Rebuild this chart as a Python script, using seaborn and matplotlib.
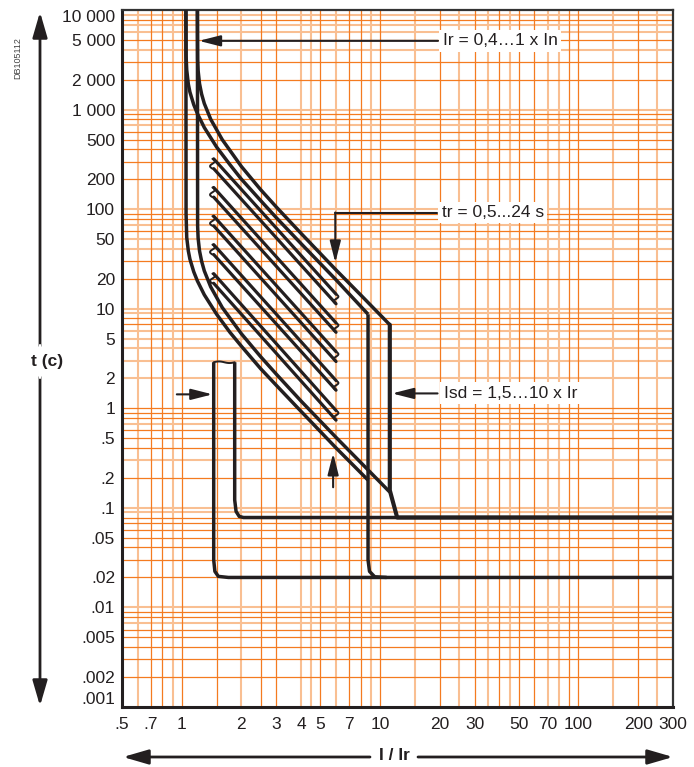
import numpy as np
import pandas as pd
import seaborn as sns
import matplotlib.pyplot as plt
from matplotlib.patches import ArrowStyle

sns.set_style('white')
plt.rcParams['font.family'] = ['Liberation Sans', 'DejaVu Sans']

INK = '#231f20'
DARK_OR = '#f47b20'
LIGHT_OR = '#f9bf92'
W, H = 694, 767

# ---- log paper grid (I/Ir and t values) ----
x_grid_dark = [0.7, 0.8, 1, 1.5, 2.5, 3, 5, 7, 8, 10, 20, 30, 40, 50, 60, 90, 100, 200]
x_grid_light = [0.6, 0.9, 2, 4, 4.5, 6, 9, 15, 25, 35, 45, 70, 80, 150, 250]
y_grid_dark = [8000, 5000, 3000, 2000, 900, 800, 600, 500, 400, 300, 200, 90, 80, 60, 30, 20,
               8, 7, 1, 0.9, 0.8, 0.6, 0.5, 0.4, 0.2, 0.08, 0.07, 0.06, 0.05, 0.04, 0.03, 0.02,
               0.009, 0.008, 0.006, 0.005, 0.004, 0.003, 0.002]
y_grid_light = [9000, 7000, 6000, 4000, 1000, 700, 100, 70, 50, 40, 10, 9, 6, 5, 4, 3, 2,
                0.7, 0.3, 0.1, 0.09, 0.01, 0.007]

x_ticks = [0.5, 0.7, 1, 2, 3, 4, 5, 7, 10, 20, 30, 50, 70, 100, 200, 300]
x_labels = ['.5', '.7', '1', '2', '3', '4', '5', '7', '10', '20', '30', '50', '70', '100', '200', '300']
y_ticks = [10000, 5000, 2000, 1000, 500, 200, 100, 50, 20, 10, 5, 2, 1, 0.5, 0.2, 0.1,
           0.05, 0.02, 0.01, 0.005, 0.002, 0.001]
y_labels = ['10 000', '5 000', '2 000', '1 000', '500', '200', '100', '50', '20', '10', '5', '2',
            '1', '.5', '.2', '.1', '.05', '.02', '.01', '.005', '.002', '.001']

# ---- long time curves ----
# tr = 0.5 s band, lower / upper
a_i = [1.05, 1.052, 1.06, 1.08, 1.1, 1.15, 1.2, 1.3, 1.5, 1.75, 2, 2.5, 3, 4, 6, 8.7]
a_t = [10000, 90, 52, 38, 31.5, 23.5, 19, 13.8, 8.8, 5.8, 4.2, 2.5, 1.7, 0.93, 0.40, 0.19]
b_i = [1.2, 1.203, 1.21, 1.23, 1.26, 1.3, 1.4, 1.6, 2, 2.5, 3, 4, 6, 8, 11.2]
b_t = [10000, 68, 51, 38, 30, 24, 16.6, 10.3, 5.6, 3.3, 2.2, 1.18, 0.51, 0.285, 0.144]
# tr = 24 s band, lower / upper
c_i = [1.05, 1.052, 1.06, 1.08, 1.1, 1.15, 1.2, 1.3, 1.5, 1.75, 2, 2.5, 3, 4, 6, 8.7]
c_t = [10000, 3500, 2500, 1800, 1500, 1120, 910, 660, 420, 280, 200, 122, 82, 45, 19.5, 8.8]
d_i = [1.2, 1.203, 1.21, 1.23, 1.26, 1.3, 1.4, 1.6, 2, 2.5, 3, 4, 6, 8, 11.2]
d_t = [10000, 3200, 2460, 1820, 1430, 1150, 800, 500, 268, 157, 105, 57, 24.5, 13.7, 6.9]

# intermediate tr settings, cut between 1.45 and 6 x Ir
tr_start_i, tr_end_i = 1.45, 6
tr_upper_start = [320, 165, 85, 44, 22.5]
tr_upper_end = [14, 7.2, 3.7, 1.9, 0.95]
tr_lower_start = [255, 132, 68, 35, 18]
tr_lower_end = [11.2, 5.8, 2.95, 1.52, 0.76]

# ---- short time (Isd) ----
sd_min_l_i = [1.45, 1.45, 1.47, 1.53, 1.72, 300]
sd_min_l_t = [2.9, 0.03, 0.023, 0.0205, 0.02, 0.02]
sd_min_r_i = [1.85, 1.85, 1.88, 1.95, 2.05, 300]
sd_min_r_t = [2.9, 0.12, 0.092, 0.082, 0.08, 0.08]
sd_max_l_i = [8.7, 8.7, 8.85, 9.4, 10.8]
sd_max_l_t = [8.8, 0.03, 0.023, 0.0203, 0.02]
sd_max_r_i = [11.2, 11.2, 12.2, 300]
sd_max_r_t = [6.9, 0.15, 0.08, 0.08]

fig = plt.figure(figsize=(W / 100, H / 100), dpi=100)
ax = fig.add_axes([122 / W, 1 - 707 / H, 551 / W, 697 / H])
ax.set_xscale('log')
ax.set_yscale('log')

for v in x_grid_light:
    ax.axvline(v, color=LIGHT_OR, lw=1.5, zorder=0)
for v in y_grid_light:
    ax.axhline(v, color=LIGHT_OR, lw=1.5, zorder=0)
for v in x_grid_dark:
    ax.axvline(v, color=DARK_OR, lw=0.9, zorder=0.5)
for v in y_grid_dark:
    ax.axhline(v, color=DARK_OR, lw=0.9, zorder=0.5)

rows = []
def add(name, xs, ys):
    for x, y in zip(xs, ys):
        rows.append((name, x, y))

add('A', a_i, a_t)
add('B', b_i, b_t)
add('C', c_i, c_t)
add('D', d_i, d_t)
add('sd_min_l', sd_min_l_i, sd_min_l_t)
add('sd_min_r', sd_min_r_i, sd_min_r_t)
add('sd_max_l', sd_max_l_i, sd_max_l_t)
df = pd.DataFrame(rows, columns=['curve', 'I', 't'])
sns.lineplot(data=df, x='I', y='t', units='curve', estimator=None, sort=False,
             color=INK, lw=2.5, ax=ax, zorder=3, solid_capstyle='butt')

out = pd.DataFrame({'I': sd_max_r_i, 't': sd_max_r_t})
sns.lineplot(data=out, x='I', y='t', estimator=None, sort=False, color=INK, lw=3.0,
             ax=ax, zorder=3)

short = []
for k in range(len(tr_upper_start)):
    short.append(('u%d' % k, tr_start_i, tr_upper_start[k]))
    short.append(('u%d' % k, tr_end_i, tr_upper_end[k]))
    short.append(('l%d' % k, tr_start_i, tr_lower_start[k]))
    short.append(('l%d' % k, tr_end_i, tr_lower_end[k]))
sdf = pd.DataFrame(short, columns=['curve', 'I', 't'])
sns.lineplot(data=sdf, x='I', y='t', units='curve', estimator=None, sort=False,
             color=INK, lw=2.3, ax=ax, zorder=3)


def wiggle(p0, p1, amp=0.012):
    # small break mark between two line ends (log space)
    lx0, ly0 = np.log10(p0)
    lx1, ly1 = np.log10(p1)
    s = np.linspace(0, 1, 25)
    lx = lx0 + (lx1 - lx0) * s
    ly = ly0 + (ly1 - ly0) * s
    dx, dy = lx1 - lx0, ly1 - ly0
    n = np.hypot(dx, dy)
    off = amp * np.sin(2 * np.pi * s)
    lx += -dy / n * off
    ly += dx / n * off
    ax.plot(10 ** lx, 10 ** ly, color=INK, lw=1.4, zorder=3)


for k in range(len(tr_upper_start)):
    wiggle((tr_start_i * 0.985, tr_upper_start[k]), (tr_start_i * 0.985, tr_lower_start[k]))
    wiggle((tr_end_i, tr_upper_end[k]), (tr_end_i, tr_lower_end[k]))
wiggle((sd_min_l_i[0], sd_min_l_t[0]), (sd_min_r_i[0], sd_min_r_t[0]), amp=0.008)

ax.set_xlim(0.5, 300)
ax.set_ylim(0.001, 10000)
ax.set_xticks(x_ticks)
ax.set_xticklabels(x_labels)
ax.set_yticks(y_ticks)
ax.set_yticklabels(y_labels)
ax.minorticks_off()
ax.tick_params(axis='both', length=0, labelsize=12.5, colors=INK)
ax.tick_params(axis='x', pad=7)
ax.tick_params(axis='y', pad=5)
yl = ax.get_yticklabels()
yl[0].set_va('top')
yl[-1].set_va('bottom')
ax.set_xlabel('')
ax.set_ylabel('')
for side in ['left', 'bottom']:
    ax.spines[side].set_linewidth(2.2)
    ax.spines[side].set_color(INK)
for side in ['top', 'right']:
    ax.spines[side].set_linewidth(1.6)
    ax.spines[side].set_color('#333333')
    ax.spines[side].set_visible(True)

# ---- annotations ----
head = ArrowStyle('-|>', head_length=1.3, head_width=0.33)
arrow_kw = dict(arrowstyle=head, mutation_scale=10, lw=1.5, color=INK, shrinkA=0, shrinkB=0)
box = dict(facecolor='white', edgecolor='none', pad=2.5)
fs = 12.5

ax.annotate('', xy=(1.22, 4900), xytext=(19.6, 4900), arrowprops=arrow_kw, zorder=5)
ax.text(20.7, 4900, 'Ir = 0,4\u20261 x In', fontsize=fs, color=INK, va='center', ha='left',
        bbox=box, zorder=6)

ax.plot([19.3, 5.95], [92.5, 92.5], color=INK, lw=1.5, zorder=5)
ax.annotate('', xy=(5.95, 29), xytext=(5.95, 92.5), arrowprops=arrow_kw, zorder=5)
ax.text(20.5, 92.5, 'tr = 0,5...24 s', fontsize=fs, color=INK, va='center', ha='left',
        bbox=box, zorder=6)

ax.annotate('', xy=(11.5, 1.41), xytext=(19.5, 1.41), arrowprops=arrow_kw, zorder=5)
ax.text(21.0, 1.41, 'Isd = 1,5\u202610 x Ir', fontsize=fs, color=INK, va='center', ha='left',
        bbox=box, zorder=6)

ax.annotate('', xy=(1.43, 1.38), xytext=(0.945, 1.38), arrowprops=arrow_kw, zorder=5)
ax.annotate('', xy=(5.8, 0.354), xytext=(5.8, 0.161), arrowprops=arrow_kw, zorder=5)

# outer axis arrows in figure space
big = ArrowStyle('-|>', head_length=1.1, head_width=0.32)
big_kw = dict(arrowstyle=big, mutation_scale=14, lw=2.0, color=INK, shrinkA=0, shrinkB=0)


def f(px, py):
    return (px / W, 1 - py / H)


fig.add_artist(plt.Line2D([40 / W, 40 / W], [1 - 345 / H, 1 - 378 / H], color='white'))
ax.annotate('', xy=f(40, 12), xytext=f(40, 346), xycoords='figure fraction',
            textcoords='figure fraction', arrowprops=big_kw)
ax.annotate('', xy=f(40, 706), xytext=f(40, 377), xycoords='figure fraction',
            textcoords='figure fraction', arrowprops=big_kw)
fig.text(*f(47, 361), 't (c)', fontsize=fs, fontweight='bold', color=INK, ha='center', va='center')

ax.annotate('', xy=f(123, 757), xytext=f(370, 757), xycoords='figure fraction',
            textcoords='figure fraction', arrowprops=big_kw)
ax.annotate('', xy=f(673, 757), xytext=f(418, 757), xycoords='figure fraction',
            textcoords='figure fraction', arrowprops=big_kw)
fig.text(*f(394, 756), 'I / Ir', fontsize=fs, fontweight='bold', color=INK, ha='center', va='center')

fig.text(*f(18, 58), 'DB105112', fontsize=6.5, color='#444444', rotation=90, ha='center', va='center')

fig.savefig('out.png', dpi=100)
